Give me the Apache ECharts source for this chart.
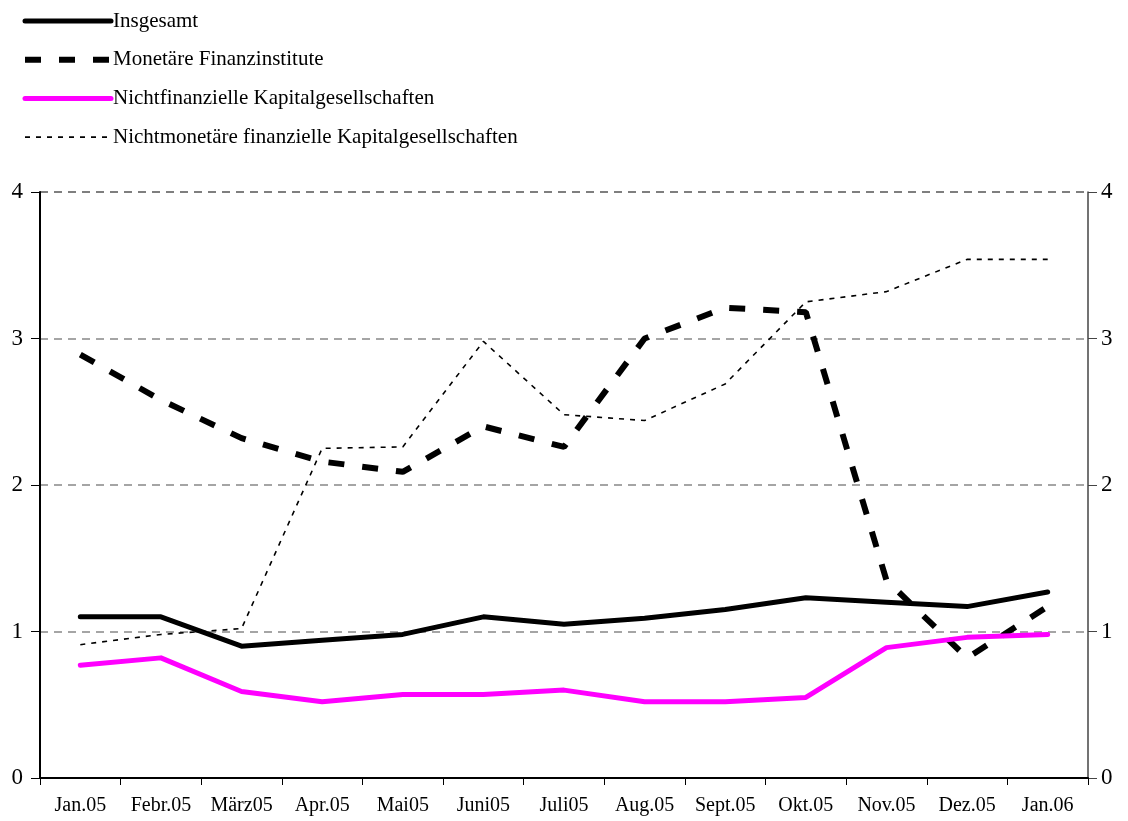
<!DOCTYPE html>
<html>
<head>
<meta charset="utf-8">
<script src="https://cdn.jsdelivr.net/npm/echarts@6/dist/echarts.min.js"></script>
<style>
html,body{margin:0;padding:0;background:#fff;}
#chart{width:1128px;height:821px;}
</style>
</head>
<body>
<div id="chart"></div>
<script>
const categories = ['Jan.05','Febr.05','März05','Apr.05','Mai05','Juni05','Juli05','Aug.05','Sept.05','Okt.05','Nov.05','Dez.05','Jan.06'];
const insgesamt = [1.10, 1.10, 0.90, 0.94, 0.98, 1.10, 1.05, 1.09, 1.15, 1.23, 1.20, 1.17, 1.27];
const monetaere = [2.89, 2.58, 2.32, 2.16, 2.09, 2.40, 2.26, 3.00, 3.21, 3.18, 1.35, 0.82, 1.17];
const nichtfinanzielle = [0.77, 0.82, 0.59, 0.52, 0.57, 0.57, 0.60, 0.52, 0.52, 0.55, 0.89, 0.96, 0.98];
const nichtmonetaere = [0.91, 0.98, 1.02, 2.25, 2.26, 2.98, 2.48, 2.44, 2.69, 3.25, 3.32, 3.54, 3.54];
const yTicks = [0, 1, 2, 3, 4];

const FONT = '"Liberation Serif", "DejaVu Serif", serif';
const styles = {
  ins: {color: '#000', width: 5, type: 'solid', cap: 'round', join: 'round'},
  mon: {color: '#000', width: 6, type: [16, 18]},
  nfk: {color: '#ff00ff', width: 5, type: 'solid', cap: 'round', join: 'round'},
  nmk: {color: '#000', width: 1.6, type: [5, 6]}
};
const names = ['Insgesamt','Monetäre Finanzinstitute','Nichtfinanzielle Kapitalgesellschaften','Nichtmonetäre finanzielle Kapitalgesellschaften'];
const keys = ['ins','mon','nfk','nmk'];

const chart = echarts.init(document.getElementById('chart'), null, {renderer: 'canvas'});
chart.setOption({
  animation: false,
  backgroundColor: '#ffffff',
  textStyle: {fontFamily: FONT},
  legend: {
    orient: 'vertical',
    left: 22,
    top: 10.5,
    padding: 0,
    itemWidth: 86,
    itemHeight: 21,
    itemGap: 17.7,
    textStyle: {fontFamily: FONT, fontSize: 21, lineHeight: 21, color: '#000', padding: [0, 0, 0, -3]},
    data: names.map((n, i) => ({
      name: n,
      itemStyle: {opacity: 0},
      lineStyle: Object.assign({}, styles[keys[i]])
    }))
  },
  grid: {left: 40, right: 40, top: 192, bottom: 43, containLabel: false},
  xAxis: {
    type: 'category',
    data: categories,
    boundaryGap: true,
    axisLine: {lineStyle: {color: '#000', width: 2}},
    axisTick: {show: true, inside: false, length: 7, interval: 0, lineStyle: {color: '#000', width: 1}},
    axisLabel: {interval: 0, fontFamily: FONT, fontSize: 20, color: '#000', margin: 18}
  },
  yAxis: [
    {
      type: 'value', min: 0, max: 4, interval: 1, position: 'left',
      axisLine: {show: true, lineStyle: {color: '#000', width: 2}},
      axisTick: {show: true, inside: false, length: 9, lineStyle: {color: '#000'}},
      axisLabel: {fontFamily: FONT, fontSize: 23, color: '#000', margin: 17, formatter: v => yTicks.includes(v) ? String(v) : ''},
      splitLine: {show: true, lineStyle: {type: [8, 6], width: 1.5, color: ['#888', '#888', '#888', '#888', '#555']}}
    },
    {
      type: 'value', min: 0, max: 4, interval: 1, position: 'right',
      axisLine: {show: true, lineStyle: {color: '#444', width: 1.5}},
      axisTick: {show: true, inside: false, length: 9, lineStyle: {color: '#444'}},
      axisLabel: {fontFamily: FONT, fontSize: 23, color: '#000', margin: 13},
      splitLine: {show: false}
    }
  ],
  series: [
    {
      name: names[0], type: 'line', data: insgesamt, yAxisIndex: 0,
      symbol: 'none', z: 4, lineStyle: styles.ins, itemStyle: {color: '#000'}
    },
    {
      name: names[1], type: 'line', data: monetaere, yAxisIndex: 0,
      symbol: 'none', z: 3, lineStyle: styles.mon, itemStyle: {color: '#000'}
    },
    {
      name: names[2], type: 'line', data: nichtfinanzielle, yAxisIndex: 0,
      symbol: 'none', z: 4, lineStyle: styles.nfk, itemStyle: {color: '#ff00ff'}
    },
    {
      name: names[3], type: 'line', data: nichtmonetaere, yAxisIndex: 0,
      symbol: 'none', z: 2, lineStyle: styles.nmk, itemStyle: {color: '#000'}
    }
  ]
});
</script>
</body>
</html>
